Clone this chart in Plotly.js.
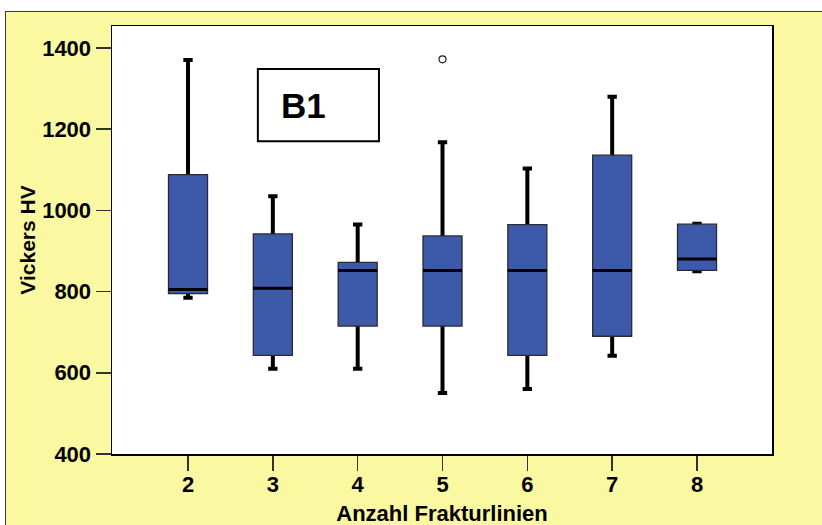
<!DOCTYPE html>
<html>
<head>
<meta charset="utf-8">
<script src="https://cdn.plot.ly/plotly-3.0.1.min.js"></script>
<style>
  html, body { margin: 0; padding: 0; background: #ffffff; overflow: hidden; }
  #frame {
    position: absolute; left: 5px; top: 11px;
    width: 817px; height: 514px;
    background: #FAF8A0;
    border-left: 1px solid #3a3a30; border-top: 1px solid #3a3a30;
    overflow: hidden;
  }
  #chart { width: 816px; height: 533px; }
</style>
</head>
<body>
<div id="frame"><div id="chart"></div></div>
<script>
// Vickers hardness (HV) grouped by number of fracture lines
const groups      = [2, 3, 4, 5, 6, 7, 8];
const lowerFence  = [785, 610, 610, 550, 560, 642, 850];
const quartile1   = [795, 643, 715, 715, 643, 690, 852];
const medians     = [805, 808, 852, 852, 852, 852, 880];
const quartile3   = [1088, 942, 872, 937, 965, 1136, 966];
const upperFence  = [1370, 1035, 965, 1168, 1103, 1280, 967];
const outlierX    = [5];
const outlierY    = [1372];
const tickValsY   = [400, 600, 800, 1000, 1200, 1400];
const tickValsX   = [2, 3, 4, 5, 6, 7, 8];
const panelLabel  = 'B1';

const FONT = 'Arial, "Liberation Sans", Helvetica, sans-serif';
const BOX_BLUE = '#3D59AA';

// thick whiskers with caps (drawn from the median outward; the box hides the inner part)
const whiskers = {
  type: 'box', x: groups,
  q1: medians, median: medians, q3: medians,
  lowerfence: lowerFence, upperfence: upperFence,
  width: 0.11, whiskerwidth: 1,
  fillcolor: 'rgba(0,0,0,0)',
  line: { color: '#000000', width: 4 },
  boxpoints: false, hoverinfo: 'skip', showlegend: false
};

// the interquartile boxes
const boxes = {
  type: 'box', x: groups,
  q1: quartile1, median: medians, q3: quartile3,
  lowerfence: quartile1, upperfence: quartile3,
  width: 0.46, whiskerwidth: 0,
  fillcolor: BOX_BLUE,
  line: { color: '#2a2a35', width: 1.3 },
  boxpoints: false, showlegend: false
};

// heavier median bars
const medianBars = {
  type: 'box', x: groups,
  q1: medians, median: medians, q3: medians,
  lowerfence: medians, upperfence: medians,
  width: 0.46, whiskerwidth: 0,
  fillcolor: 'rgba(0,0,0,0)',
  line: { color: '#000000', width: 3 },
  boxpoints: false, hoverinfo: 'skip', showlegend: false
};

const outliers = {
  type: 'scatter', mode: 'markers', x: outlierX, y: outlierY,
  marker: { symbol: 'circle-open', size: 7, color: '#222222', line: { width: 1.2 } },
  showlegend: false
};

// the chart runs a little past the bottom of the frame
const layout = {
  width: 816, height: 533,
  margin: { l: 106, r: 50, t: 14, b: 91, pad: 0 },
  paper_bgcolor: '#FAF8A0',
  plot_bgcolor: '#FFFFFF',
  boxmode: 'overlay',
  showlegend: false,
  font: { family: FONT, color: '#000000', size: 22 },
  xaxis: {
    range: [1.104, 8.884], fixedrange: true,
    tickmode: 'array', tickvals: tickValsX, ticktext: tickValsX.map(String),
    ticks: 'outside', ticklen: 15, tickwidth: 1.5, tickcolor: '#333333',
    ticklabelstandoff: -5,
    showgrid: false, zeroline: false,
    showline: true, mirror: true, linecolor: '#000000', linewidth: 1.5,
    tickfont: { family: FONT, size: 22, weight: 'bold', color: '#000000' },
    title: { text: 'Anzahl Frakturlinien', standoff: 9,
             font: { family: FONT, size: 22, weight: 'bold', color: '#000000' } }
  },
  yaxis: {
    range: [400, 1454], fixedrange: true,
    tickmode: 'array', tickvals: tickValsY, ticktext: tickValsY.map(String),
    ticks: 'outside', ticklen: 15, tickwidth: 1.5, tickcolor: '#333333',
    showgrid: false, zeroline: false,
    showline: true, mirror: true, linecolor: '#000000', linewidth: 1.5,
    tickfont: { family: FONT, size: 22, weight: 'bold', color: '#000000' },
    title: { text: 'Vickers HV', standoff: 1,
             font: { family: FONT, size: 21, weight: 'bold', color: '#000000' } }
  },
  shapes: [{
    type: 'rect', xref: 'paper', yref: 'paper',
    x0: 0.221, x1: 0.4045, y0: 0.731, y1: 0.8995,
    line: { color: '#000000', width: 2 }, fillcolor: '#FFFFFF', layer: 'above'
  }],
  annotations: [{
    xref: 'paper', yref: 'paper', x: 0.253, y: 0.815,
    xanchor: 'left', yanchor: 'middle', showarrow: false,
    text: panelLabel,
    font: { family: FONT, size: 35, weight: 'bold', color: '#000000' }
  }]
};

Plotly.newPlot('chart', [whiskers, boxes, medianBars, outliers], layout,
  { displayModeBar: false, staticPlot: true });
</script>
</body>
</html>
